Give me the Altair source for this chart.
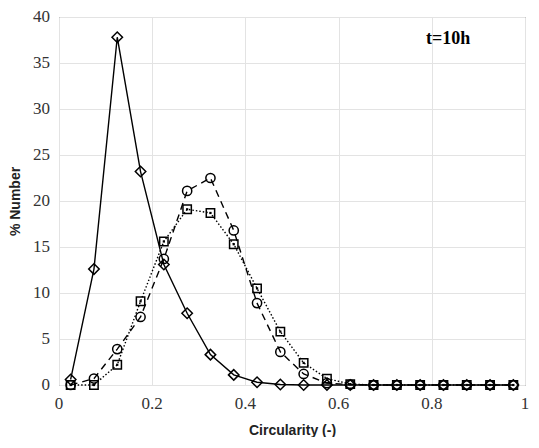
import altair as alt
import pandas as pd

x_vals = [0.025, 0.075, 0.125, 0.175, 0.225, 0.275, 0.325, 0.375, 0.425, 0.475,
          0.525, 0.575, 0.625, 0.675, 0.725, 0.775, 0.825, 0.875, 0.925, 0.975]
diamond_vals = [0.6, 12.6, 37.8, 23.2, 13.1, 7.8, 3.3, 1.1, 0.3, 0.05,
                0.0, 0.0, 0.0, 0.0, 0.0, 0.0, 0.0, 0.0, 0.0, 0.0]
circle_vals = [0.0, 0.7, 3.9, 7.4, 13.7, 21.1, 22.5, 16.8, 8.9, 3.6,
               1.2, 0.2, 0.05, 0.0, 0.0, 0.0, 0.0, 0.0, 0.0, 0.0]
square_vals = [0.0, 0.0, 2.2, 9.1, 15.6, 19.1, 18.7, 15.3, 10.5, 5.8,
               2.4, 0.7, 0.1, 0.0, 0.0, 0.0, 0.0, 0.0, 0.0, 0.0]

x_ticks = [0, 0.2, 0.4, 0.6, 0.8, 1]
x_tick_labels = ["0", "0.2", "0.4", "0.6", "0.8", "1"]
y_ticks = [0, 5, 10, 15, 20, 25, 30, 35, 40]
y_tick_labels = ["0", "5", "10", "15", "20", "25", "30", "35", "40"]

label_text = ["t=10h"]
label_x = [0.835]
label_y = [37.6]

series = [
    ("diamond", diamond_vals, "diamond", [], 110),
    ("circle", circle_vals, "circle", [7, 5], 85),
    ("square", square_vals, "square", [1.5, 2], 70),
]

SERIF = "Liberation Serif, Times New Roman, DejaVu Serif, serif"
LABEL_COLOR = "#333333"

x_scale = alt.Scale(domain=[0, 1], nice=False, zero=False)
y_scale = alt.Scale(domain=[0, 40], nice=False)

common = dict(
    grid=True, gridColor="#e3e3e3", gridWidth=1,
    domain=False, ticks=False, labels=False,
    titleFont="Liberation Sans", titleFontSize=14, titleFontWeight="bold", titleColor="#222222",
)
x_axis = alt.Axis(values=x_ticks, title="Circularity (-)", titlePadding=38, **common)
y_axis = alt.Axis(values=y_ticks, title="% Number", titlePadding=37, **common)

X = alt.X("x:Q", scale=x_scale, axis=x_axis)
Y = alt.Y("y:Q", scale=y_scale, axis=y_axis)

layers = []
for name, vals, shape, dash, size in series:
    df = pd.DataFrame({"x": x_vals, "y": vals})
    base = alt.Chart(df)
    line_kwargs = dict(color="black", strokeWidth=1.4)
    if dash:
        line_kwargs["strokeDash"] = dash
    line = base.mark_line(**line_kwargs).encode(x=X, y=Y)
    pts = base.mark_point(shape=shape, filled=False, color="black", size=size, strokeWidth=1.5, opacity=1).encode(x=X, y=Y)
    layers += [line, pts]
    if shape == "square":
        dots = base.mark_point(shape="square", filled=True, color="black", size=5, opacity=1).encode(x=X, y=Y)
        layers.append(dots)

# tick labels (serif, as in the reference)
xl_df = pd.DataFrame({"x": x_ticks, "y": [0] * len(x_ticks), "t": x_tick_labels})
xlab = alt.Chart(xl_df).mark_text(font=SERIF, fontSize=17, fontWeight="normal", color=LABEL_COLOR,
                                  align="center", baseline="top", dy=11).encode(x=X, y=Y, text="t:N")
yl_df = pd.DataFrame({"x": [0] * len(y_ticks), "y": y_ticks, "t": y_tick_labels})
ylab = alt.Chart(yl_df).mark_text(font=SERIF, fontSize=17, fontWeight="normal", color=LABEL_COLOR,
                                  align="right", baseline="middle", dx=-9).encode(x=X, y=Y, text="t:N")
layers += [xlab, ylab]

lab_df = pd.DataFrame({"x": label_x, "y": label_y, "t": label_text})
label = alt.Chart(lab_df).mark_text(font=SERIF, fontSize=18, fontWeight="bold", color="black").encode(
    x=X, y=Y, text="t:N",
)
layers.append(label)

chart = alt.layer(*layers).properties(
    width=466, height=368,
    padding={"left": 0, "top": 0, "right": 0, "bottom": 0},
).configure(
    view=alt.ViewConfig(stroke="#555555", strokeWidth=1),
)

chart.save("out.html", embed_options={"renderer": "svg", "actions": False})
